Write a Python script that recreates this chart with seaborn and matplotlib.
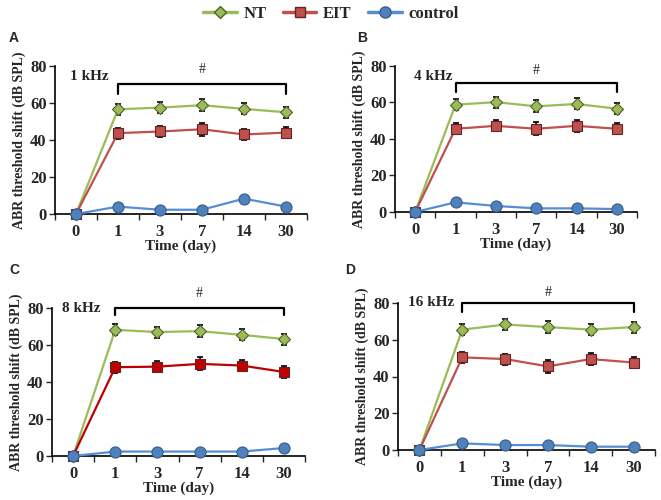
import numpy as np
import pandas as pd
import seaborn as sns
import matplotlib.pyplot as plt
from matplotlib.lines import Line2D

sns.set_style('white')
plt.rcParams['font.family'] = ['Liberation Serif', 'DejaVu Serif']
plt.rcParams['font.weight'] = 'bold'

days = ['0', '1', '3', '7', '14', '30']
groups = ['NT', 'EIT', 'control']

# threshold shift (dB SPL)
nt_1k = [0, 56.6, 57.5, 58.8, 56.8, 55.0]
eit_1k = [0, 43.7, 44.6, 45.8, 43.0, 44.0]
ctl_1k = [0, 4.0, 2.3, 2.3, 8.3, 4.0]

nt_4k = [0, 58.8, 60.2, 57.9, 59.2, 56.6]
eit_4k = [0, 45.6, 47.2, 45.6, 47.2, 45.6]
ctl_4k = [0, 5.3, 3.3, 2.0, 2.0, 1.6]

nt_8k = [0, 68.2, 67.0, 67.5, 65.5, 63.2]
eit_8k = [0, 48.0, 48.3, 49.8, 48.9, 45.4]
ctl_8k = [0, 2.4, 2.4, 2.4, 2.4, 4.3]

nt_16k = [0, 65.5, 68.3, 66.9, 65.5, 66.9]
eit_16k = [0, 50.4, 49.5, 45.5, 49.5, 47.6]
ctl_16k = [0, 3.6, 2.7, 2.7, 1.8, 1.8]

# error bars (SEM)
nt_err = [0, 3.0, 3.0, 3.2, 3.0, 3.0]
eit_err = [0, 3.0, 3.0, 3.5, 3.2, 3.0]
ctl_err = [0, 1.0, 1.0, 1.0, 1.0, 1.0]

panels = [
    ('A', '1 kHz', nt_1k, eit_1k, ctl_1k),
    ('B', '4 kHz', nt_4k, eit_4k, ctl_4k),
    ('C', '8 kHz', nt_8k, eit_8k, ctl_8k),
    ('D', '16 kHz', nt_16k, eit_16k, ctl_16k),
]

W, H = 661, 500
# axes boxes in pixels: left, right, top(y=80), bottom(y=0)
boxes = {'A': (55, 307, 66, 214), 'B': (395, 637, 66, 212),
         'C': (52, 305, 308, 456), 'D': (398, 655, 303, 450)}
letter_pos = {'A': (9, 38), 'B': (357, 38), 'C': (9, 270), 'D': (345, 270)}
bracket = {'A': (70, 65, 78), 'B': (70.5, 66, 77.5), 'C': (80, 76, 88), 'D': (80, 75, 85.5)}
label_pos = {'A': (0.06, 0.93), 'B': (0.08, 0.93), 'C': (0.04, 1.0), 'D': (0.04, 1.0)}

line_col = {'NT': '#9BBB59', 'EIT': '#C0504D', 'control': '#558ED5'}
face_col = {'NT': '#9BBB59', 'EIT': '#C0504D', 'control': '#4F81BD'}
edge_col = {'NT': '#4F6228', 'EIT': '#632523', 'control': '#385D8A'}
markers = {'NT': 'D', 'EIT': 's', 'control': 'o'}
msize = {'NT': 6.5, 'EIT': 7.5, 'control': 8}
errs = {'NT': nt_err, 'EIT': eit_err, 'control': ctl_err}

fig = plt.figure(figsize=(W / 100, H / 100), dpi=100)

for letter, freq, nt, eit, ctl in panels:
    l, r, t, b = boxes[letter]
    ax = fig.add_axes([l / W, 1 - b / H, (r - l) / W, (b - t) / H])
    df = pd.DataFrame({'day': days * 3,
                       'shift': nt + eit + ctl,
                       'group': np.repeat(groups, len(days))})
    for g in groups:
        sub = df[df['group'] == g]
        fc = face_col[g]
        lc = line_col[g]
        if letter == 'C' and g == 'EIT':
            fc = lc = '#C00000'
        ax.errorbar(sub['day'], sub['shift'], yerr=errs[g], fmt='none',
                    ecolor='black', elinewidth=1.2, capsize=2.2, capthick=1.2, zorder=2)
        sns.lineplot(data=sub, x='day', y='shift', ax=ax, color=lc, lw=1.6,
                     marker=markers[g], markersize=msize[g], markerfacecolor=fc,
                     markeredgecolor=edge_col[g], markeredgewidth=0.8,
                     sort=False, zorder=3, clip_on=False)
    ax.set_xlim(-0.5, 5.5)
    ax.set_ylim(0, 80)
    ax.set_yticks([0, 20, 40, 60, 80])
    ax.set_xticks(range(len(days)))
    ax.set_xticklabels(days)
    ax.set_xticks(np.arange(-0.5, 6, 1), minor=True)
    ax.tick_params(axis='x', which='major', length=0, pad=7, labelsize=12)
    ax.tick_params(axis='x', which='minor', length=4, width=1, direction='out', bottom=True)
    ax.tick_params(axis='y', length=4, width=1, direction='out', left=True, labelsize=12, pad=2)
    for s in ['top', 'right']:
        ax.spines[s].set_visible(False)
    for s in ['left', 'bottom']:
        ax.spines[s].set_color('black')
        ax.spines[s].set_linewidth(1.2)
    ax.set_xlabel('Time (day)', fontsize=11, fontweight='bold', labelpad=0)
    ax.set_ylabel('ABR threshold shift (dB SPL)', fontsize=10, fontweight='bold', labelpad=3)
    ax.text(*label_pos[letter], freq, transform=ax.transAxes, fontsize=11,
            fontweight='bold', va='center', ha='left')
    top, tick_end, hash_y = bracket[letter]
    ax.plot([1, 1, 5, 5], [tick_end, top, top, tick_end], color='black', lw=1.6,
            clip_on=False, zorder=4)
    ax.text(3, hash_y, '#', ha='center', va='center', fontsize=10, fontweight='normal')
    lx, ly = letter_pos[letter]
    fig.text(lx / W, 1 - ly / H, letter, family='Liberation Sans', fontsize=10,
             fontweight='bold', va='center', ha='left')

handles = [Line2D([], [], color=line_col[g], lw=2.5, marker=markers[g], markersize=msize[g],
                  markerfacecolor=face_col[g], markeredgecolor=edge_col[g]) for g in groups]
fig.legend(handles, groups, loc='center', bbox_to_anchor=(331 / W, 1 - 14 / H), ncol=3,
           frameon=False, prop={'weight': 'bold', 'size': 12}, handlelength=2.0,
           handletextpad=0.4, columnspacing=1.0)

fig.savefig('out.png', dpi=100)
